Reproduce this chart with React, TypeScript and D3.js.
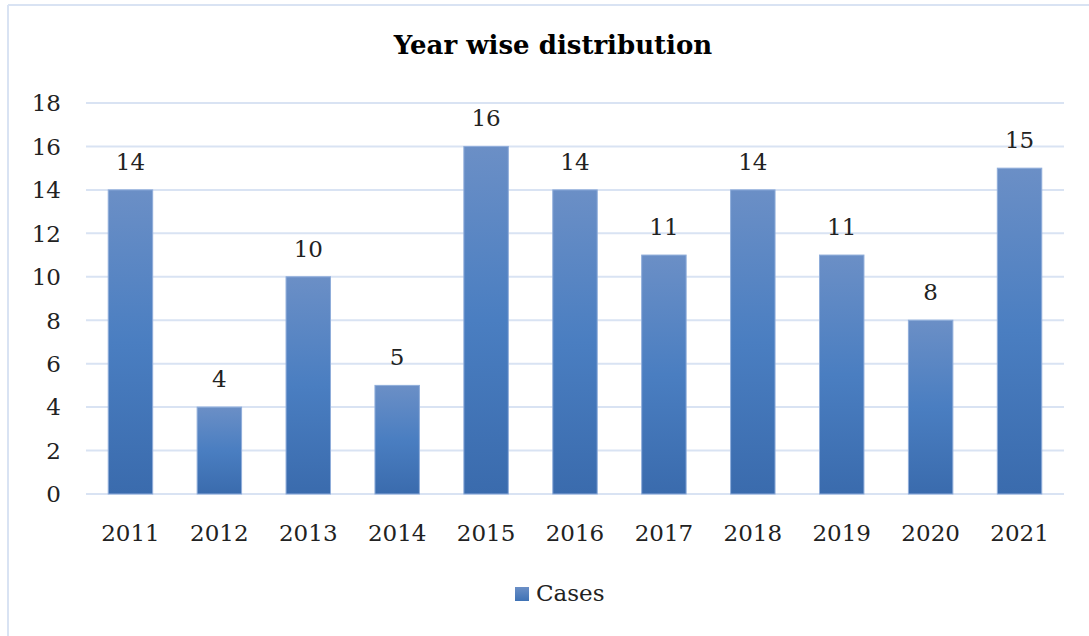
import React from "react";
import * as d3 from "d3";

const years = ["2011", "2012", "2013", "2014", "2015", "2016", "2017", "2018", "2019", "2020", "2021"];
const cases = [14, 4, 10, 5, 16, 14, 11, 14, 11, 8, 15];
const yTicks = [0, 2, 4, 6, 8, 10, 12, 14, 16, 18];
const title = "Year wise distribution";
const seriesName = "Cases";

const W = 1089;
const H = 636;
const FONT = "'DejaVu Serif', serif";

export default function App() {
  const x = d3.scaleBand<string>().domain(years).range([86, 1064]).paddingInner(0.5).paddingOuter(0.25);
  const y = d3.scaleLinear().domain([0, 18]).range([494, 103]);
  const grid = "#d9e3f3";

  return (
    <svg width={W} height={H} style={{ position: "absolute", left: 0, top: 0, background: "#fff" }}>
      <defs>
        <linearGradient id="barGrad" x1="0" y1="0" x2="0" y2="1">
          <stop offset="0%" stopColor="#6b8fc6" />
          <stop offset="50%" stopColor="#4a7ec1" />
          <stop offset="100%" stopColor="#3a6bad" />
        </linearGradient>
        <linearGradient id="legGrad" x1="0" y1="0" x2="0" y2="1">
          <stop offset="0%" stopColor="#6b8fc6" />
          <stop offset="100%" stopColor="#3f72b5" />
        </linearGradient>
      </defs>
      {/* frame */}
      <line x1={8} y1={5} x2={W} y2={5} stroke={grid} strokeWidth={2} />
      <line x1={8} y1={5} x2={8} y2={H} stroke={grid} strokeWidth={2} />

      <text x={553} y={54} textAnchor="middle" fontFamily={FONT} fontWeight="bold" fontSize={26} fill="#000">
        {title}
      </text>

      {yTicks.map((t) => (
        <g key={t}>
          <line x1={86} x2={1064} y1={y(t)} y2={y(t)} stroke={grid} strokeWidth={2} />
          <text x={61} y={y(t)} dy="0.36em" textAnchor="end" fontFamily={FONT} fontSize={23} fill="#222">
            {t}
          </text>
        </g>
      ))}

      {years.map((yr, i) => {
        const bx = x(yr)!;
        const bw = x.bandwidth();
        const v = cases[i];
        return (
          <g key={yr}>
            <rect x={bx} y={y(v)} width={bw} height={y(0) - y(v)} fill="url(#barGrad)" stroke="#8fadda" strokeWidth={1} />
            <text x={bx + bw / 2} y={y(v) - 20} textAnchor="middle" fontFamily={FONT} fontSize={23} fill="#222">
              {v}
            </text>
            <text x={bx + bw / 2} y={541} textAnchor="middle" fontFamily={FONT} fontSize={23} fill="#222">
              {yr}
            </text>
          </g>
        );
      })}

      <rect x={515} y={587} width={14} height={14} fill="url(#legGrad)" />
      <text x={536} y={601} fontFamily={FONT} fontSize={23} fill="#222">
        {seriesName}
      </text>
    </svg>
  );
}
